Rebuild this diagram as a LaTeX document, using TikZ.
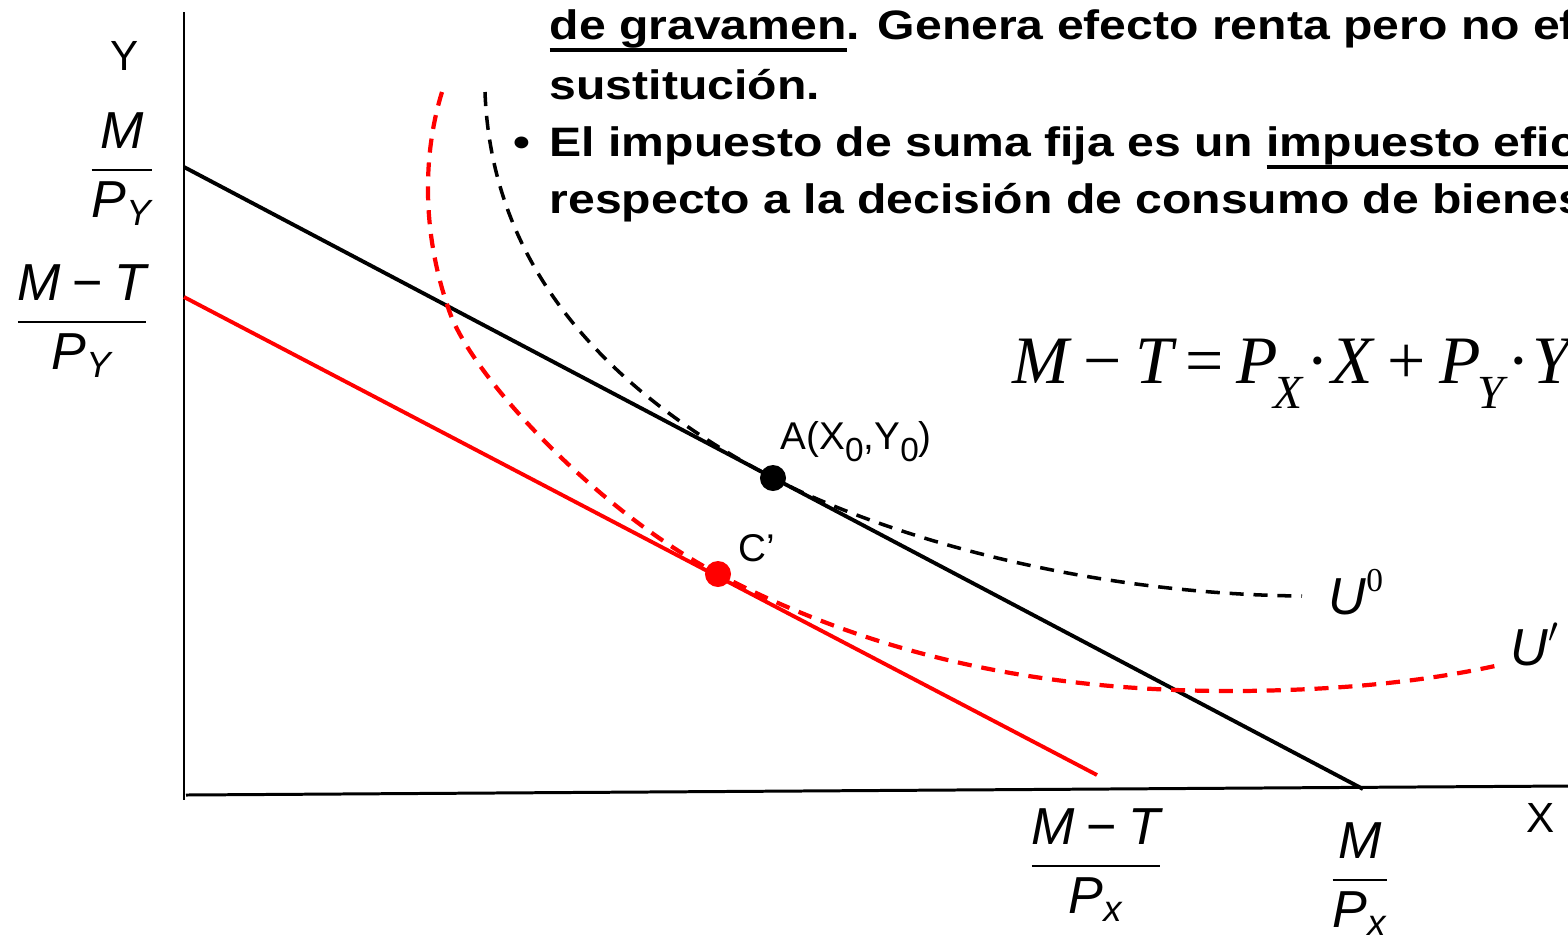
\documentclass[tikz,border=0pt]{standalone}
\usepackage{amsmath}
\usepackage{fontspec}
\setmainfont{Liberation Sans}
\newfontfamily\headfont[FakeStretch=1.17]{Liberation Sans}
\newfontfamily\eqfont{Liberation Serif}
\usetikzlibrary{positioning,calc}
\newcommand{\vi}[1]{\text{\itshape #1}}
\newcommand{\ve}[1]{\text{\eqfont\itshape #1}}
\newcommand{\smin}{\mathbin{\text{−}}}
\newcommand{\eop}[1]{\mathbin{\text{\eqfont #1}}}
\newcommand{\edot}{\mkern0.6mu\text{\eqfont ·}\mkern0.6mu}
\newcommand{\ulx}[1]{\setbox0=\hbox{#1}\rlap{\rule[-3.7pt]{\wd0}{1.1pt}}\box0}
\newcommand{\lowidx}[1]{\raisebox{-3.5pt}{\fontsize{9.5}{10}\selectfont #1}}

\begin{document}
\begin{tikzpicture}[
    x=0.01cm, y=-0.01cm,
    axis/.style={line width=0.85pt},
    budget/.style={line width=1.1pt},
    indiff/.style={line width=1pt, dash pattern=on 4pt off 2.8pt},
    dot/.style={circle, fill, inner sep=0pt, minimum size=0.26cm},
    head/.style={font=\headfont\bfseries\fontsize{11.7}{14}\selectfont, inner sep=0pt},
    lbl/.style={font=\fontsize{14.8}{17}\selectfont, inner sep=0pt},
    eq/.style={font=\fontsize{19.3}{23}\selectfont, inner sep=0pt},
    axlbl/.style={font=\fontsize{12}{14}\selectfont, inner sep=0pt},
    pt/.style={font=\fontsize{11}{13}\selectfont, inner sep=0pt}
]
    \useasboundingbox (0,0) rectangle (1568,944);
    \clip (0,0) rectangle (1568,944);

    % Axes
    \coordinate (ytop) at (184,12);
    \coordinate (ybot) at (184,800);
    \coordinate (xbeg) at (186,795);
    \coordinate (xend) at (1568,786);
    \draw[axis] (ytop) -- (ybot);
    \draw[axis] (xbeg) -- (xend);
    \node[axlbl, anchor=base] (lblY) at (125,70) {Y};
    \node[axlbl, anchor=base] (lblX) at (1541,832) {X};

    % Budget lines
    \coordinate (bY) at (184,167);
    \coordinate (bX) at (1363,789);
    \coordinate (rY) at (184,297);
    \coordinate (rX) at (1097,775);
    \draw[budget] (bY) -- (bX);
    \draw[budget, red] (rY) -- (rX);

    % Intercepts
    \node[lbl, anchor=base] (fMPy) at (122,183) {$\displaystyle\frac{\vi{M}}{\vi{P}_{\vi{Y}}}$};
    \node[lbl, anchor=base] (fMTPy) at (82,335) {$\displaystyle\frac{\vi{M}\smin\vi{T}}{\vi{P}_{\vi{Y}}}$};
    \node[lbl, anchor=base] (fMTPx) at (1096,879) {$\displaystyle\frac{\vi{M}\smin\vi{T}}{\vi{P}_{\vi{x}}}$};
    \node[lbl, anchor=base] (fMPx) at (1360,893) {$\displaystyle\frac{\vi{M}}{\vi{P}_{\vi{x}}}$};

    % Indifference curves
    \coordinate (A) at (773,478);
    \coordinate (C) at (718,574);
    \draw[indiff] (485,92) .. controls (492,280) and (623,399) .. (A)
        .. controls (880,534) and (1080,594) .. (1302,596);
    \draw[indiff, red, line width=1.2pt] (442,92) .. controls (424,150) and (420,230) .. (450,313)
        .. controls (474,379) and (598,511) .. (C)
        .. controls (880,659) and (1050,692) .. (1240,691)
        .. controls (1350,690) and (1430,680) .. (1495,666);
    \node[lbl, anchor=base west] (lblU0) at (1328,614) {$\vi{U}^{\mbox{\eqfont\fontsize{9.5}{10}\selectfont 0}}$};
    \node[lbl, anchor=base west] (lblU1) at (1510,665) {$\vi{U}'$};

    % Optima
    \node[dot] (ptA) at (A) {};
    \node[dot, red] (ptC) at (C) {};
    \node[pt, anchor=base west] (lblA) at (780,449) {A(X\lowidx{0},Y\lowidx{0})};
    \node[pt, above right=0.02cm and 0.1cm of ptC] (lblC) {C’};

    % Budget equation
    \node[eq, anchor=base west] (eqn) at (1012,383)
        {$\medmuskip=3.5mu\thickmuskip=3mu
          \ve{M}\eop{−}\ve{T}\mathrel{\text{\eqfont =}}{\ve{P}\kern-0.06em}_{\ve{\raisebox{-4pt}{X}}}\edot\ve{X}\eop{+}{\ve{P}\kern-0.06em}_{\ve{\raisebox{-4pt}{Y}}}\edot\ve{Y}$};

    % Slide text
    \node[head, anchor=base west] (ln1) at (549,39) {\ulx{de gravamen}. Genera efecto renta pero no ef};
    \node[head, anchor=base west] (ln2) at (549,99) {sustitución.};
    \node[head, anchor=base] (bul) at (522,156) {•};
    \node[head, anchor=base west] (ln3) at (549,156) {El impuesto de suma fija es un \ulx{impuesto efic}};
    \node[head, anchor=base west] (ln4) at (549,213) {respecto a la decisión de consumo de bienes};
\end{tikzpicture}
\end{document}
